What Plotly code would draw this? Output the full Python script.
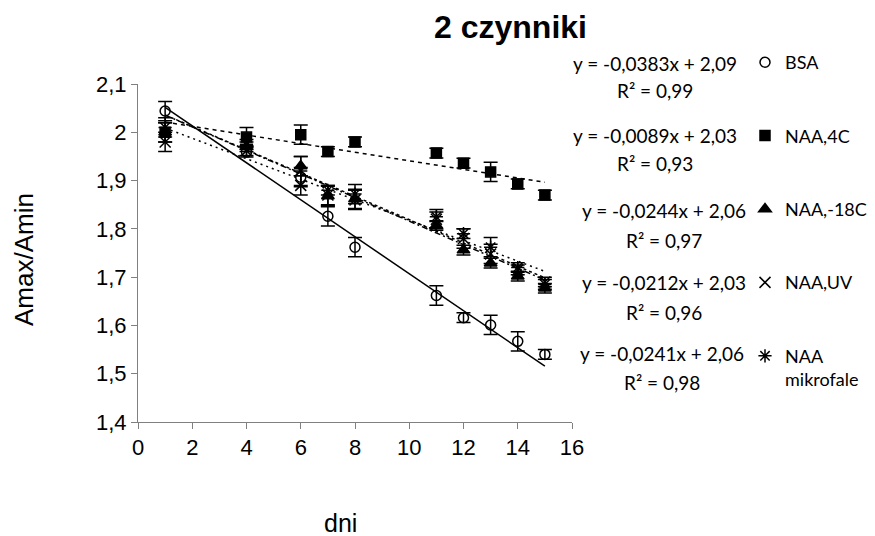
import plotly.graph_objects as go

days = [1, 4, 6, 7, 8, 11, 12, 13, 14, 15]

series_names = ["BSA", "NAA,4C", "NAA,-18C", "NAA,UV", "NAA<br>mikrofale"]

bsa = [2.044, 1.959, 1.907, 1.826, 1.762, 1.662, 1.616, 1.601, 1.567, 1.540]
bsa_err = [0.02, 0.01, 0.02, 0.02, 0.02, 0.02, 0.01, 0.02, 0.02, 0.01]

naa_4c = [2.000, 1.990, 1.995, 1.960, 1.980, 1.957, 1.936, 1.918, 1.893, 1.870]
naa_4c_err = [0.02, 0.02, 0.02, 0.01, 0.01, 0.01, 0.01, 0.02, 0.01, 0.01]

naa_m18c = [2.000, 1.970, 1.930, 1.868, 1.862, 1.807, 1.756, 1.729, 1.702, 1.677]
naa_m18c_err = [0.02, 0.01, 0.02, 0.02, 0.02, 0.01, 0.01, 0.01, 0.01, 0.01]

naa_uv = [1.980, 1.962, 1.890, 1.870, 1.860, 1.820, 1.780, 1.748, 1.715, 1.690]
naa_uv_err = [0.02, 0.01, 0.02, 0.02, 0.02, 0.02, 0.02, 0.02, 0.01, 0.01]

naa_mikro = [2.010, 1.975, 1.920, 1.880, 1.872, 1.825, 1.790, 1.762, 1.720, 1.685]
naa_mikro_err = [0.02, 0.01, 0.03, 0.01, 0.02, 0.01, 0.01, 0.02, 0.01, 0.01]

# trendline coefficients as printed on the chart
slopes = [-0.0383, -0.0089, -0.0244, -0.0212, -0.0241]
intercepts = [2.09, 2.03, 2.06, 2.03, 2.06]
eq_texts = ["y = -0,0383x + 2,09", "y = -0,0089x + 2,03", "y = -0,0244x + 2,06",
            "y = -0,0212x + 2,03", "y = -0,0241x + 2,06"]
r2_texts = ["R² = 0,99", "R² = 0,93", "R² = 0,97", "R² = 0,96", "R² = 0,98"]

values = [bsa, naa_4c, naa_m18c, naa_uv, naa_mikro]
errors = [bsa_err, naa_4c_err, naa_m18c_err, naa_uv_err, naa_mikro_err]

symbols = ["circle-open", "square", "triangle-up", "x-thin-open", "asterisk-open"]
msizes = [10, 10, 11, 11, 11]
dashes = ["solid", "4px,4px", "6px,3px,2px,3px", "2px,4px", "3px,3px"]

fig = go.Figure()

# trendlines
for i in range(5):
    xs = [days[0], days[-1]]
    ys = [slopes[i] * x + intercepts[i] for x in xs]
    fig.add_trace(go.Scatter(x=xs, y=ys, mode="lines", showlegend=False,
                             line=dict(color="black", width=1.5, dash=dashes[i]),
                             hoverinfo="skip"))

for i in range(5):
    fig.add_trace(go.Scatter(
        x=days, y=values[i], mode="markers", name=series_names[i],
        legendgroup=str(i),
        marker=dict(symbol=symbols[i], size=msizes[i], color="black",
                    line=dict(color="black", width=1.5)),
        error_y=dict(type="data", array=errors[i], visible=True,
                     color="black", thickness=1.5, width=7),
    ))

# plot area in pixels
L, R, T, B = 138, 572, 84, 422
W, H = R - L, B - T

def px2x(px):
    return (px - L) / W

def py2y(py):
    return (B - py) / H

eq_cx = [655, 655, 664, 664, 662]
eq_py = [63, 135, 210, 282, 353]
r2_py = [90, 163, 240, 312, 382]
annotations = []
for i in range(5):
    annotations.append(dict(x=px2x(eq_cx[i]), y=py2y(eq_py[i]), xref="paper", yref="paper",
                            text=eq_texts[i], showarrow=False, xanchor="center", yanchor="middle",
                            font=dict(family="Lato", size=19, color="black")))
    annotations.append(dict(x=px2x(eq_cx[i]), y=py2y(r2_py[i]), xref="paper", yref="paper",
                            text=r2_texts[i], showarrow=False, xanchor="center", yanchor="middle",
                            font=dict(family="Lato", size=19, color="black")))

annotations.append(dict(x=px2x(510), y=py2y(27), xref="paper", yref="paper",
                        text="<b>2 czynniki</b>", showarrow=False, xanchor="center", yanchor="middle",
                        font=dict(family="Liberation Sans", size=32, color="black")))
annotations.append(dict(x=px2x(340), y=py2y(523), xref="paper", yref="paper",
                        text="dni", showarrow=False, xanchor="center", yanchor="middle",
                        font=dict(family="Liberation Sans", size=25, color="black")))
annotations.append(dict(x=px2x(24), y=py2y(260), xref="paper", yref="paper",
                        text="Amax/Amin", showarrow=False, xanchor="center", yanchor="middle",
                        textangle=-90,
                        font=dict(family="Liberation Sans", size=26, color="black")))

fig.update_layout(
    width=875, height=536,
    margin=dict(l=L, r=875 - R, t=T, b=536 - B, pad=0, autoexpand=False),
    paper_bgcolor="white", plot_bgcolor="white",
    separators=", ",
    showlegend=True,
    legend=dict(x=px2x(745), y=py2y(44), xanchor="left", yanchor="top",
                font=dict(family="Lato", size=18, color="black"),
                tracegroupgap=47, traceorder="grouped", valign="top",
                bgcolor="rgba(0,0,0,0)", itemwidth=30, maxheight=520),
    annotations=annotations,
    xaxis=dict(range=[0, 16], dtick=2, tick0=0, showgrid=False, zeroline=False,
               showline=True, linecolor="#808080", linewidth=1,
               ticks="outside", ticklen=6, tickcolor="#808080",
               tickfont=dict(family="Liberation Sans", size=22, color="black")),
    yaxis=dict(range=[1.4, 2.1], dtick=0.1, tick0=1.4, showgrid=False, zeroline=False,
               showline=True, linecolor="#808080", linewidth=1,
               ticks="outside", ticklen=6, tickcolor="#808080",
               tickfont=dict(family="Liberation Sans", size=22, color="black")),
)

fig.write_html("out.html", config={"displayModeBar": False},
               post_script="document.body.style.margin='0';")
